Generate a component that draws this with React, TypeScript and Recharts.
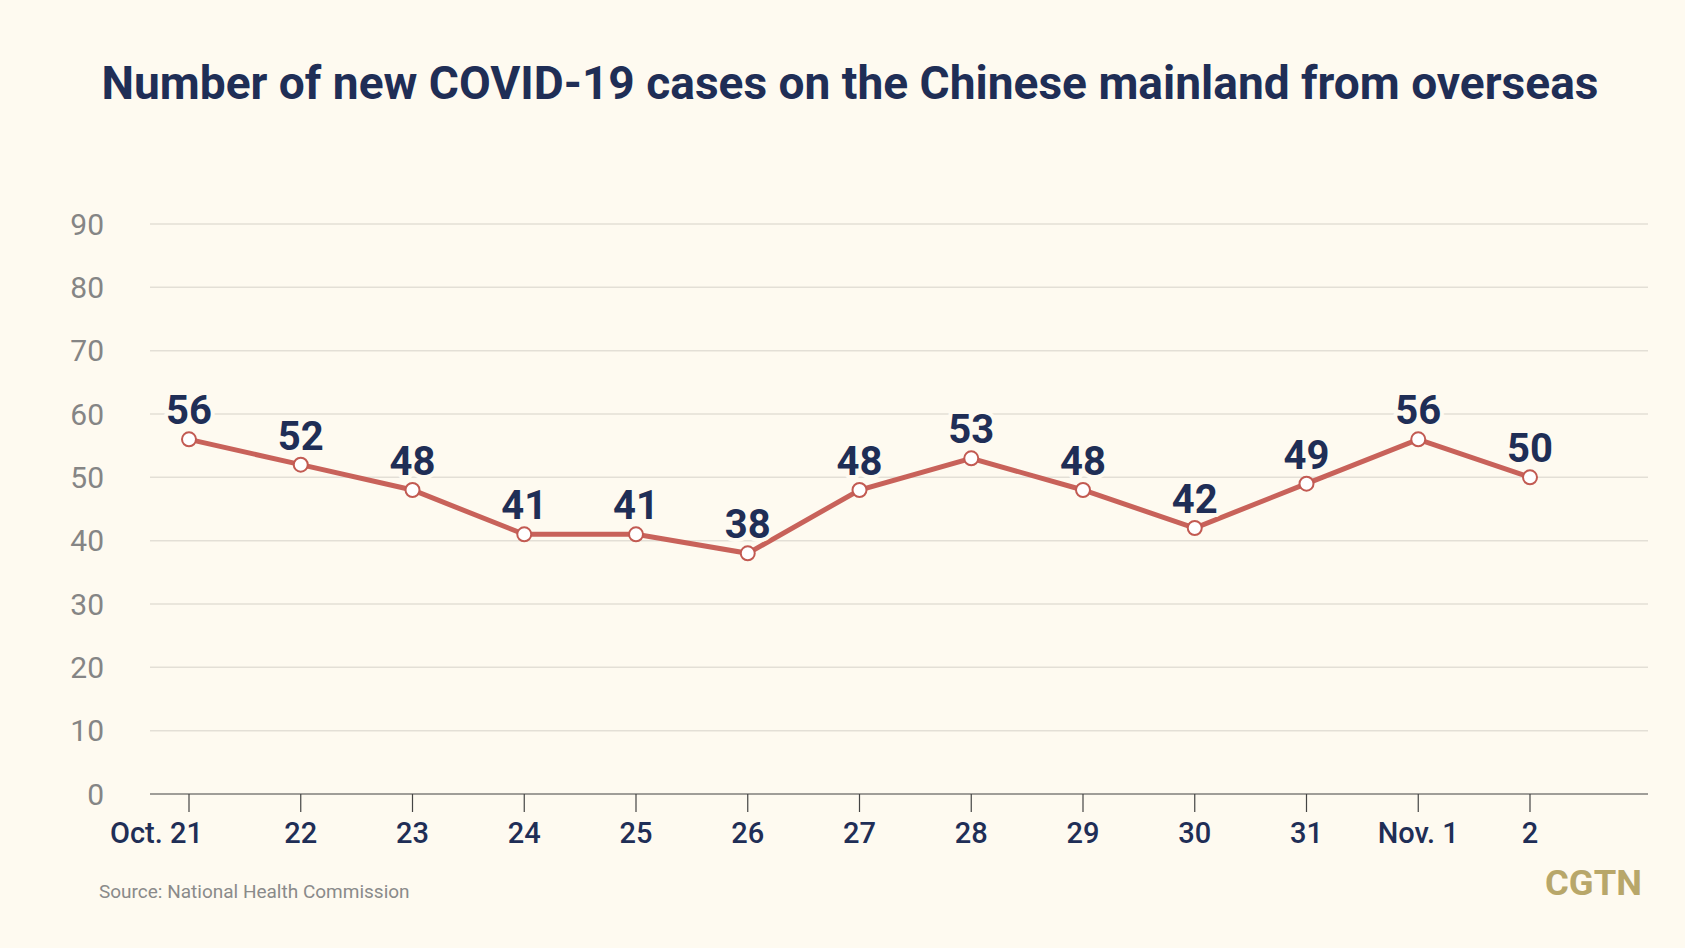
import React from 'react';
import { LineChart, Line, XAxis, YAxis, CartesianGrid } from 'recharts';

const categories = ['Oct. 21', '22', '23', '24', '25', '26', '27', '28', '29', '30', '31', 'Nov. 1', '2'];
const cases = [56, 52, 48, 41, 41, 38, 48, 53, 48, 42, 49, 56, 50];
const yTicks = [0, 10, 20, 30, 40, 50, 60, 70, 80, 90];

const title = 'Number of new COVID-19 cases on the Chinese mainland from overseas';
const source = 'Source: National Health Commission';
const logo = 'CGTN';

const data = categories.map((c, i) => ({ date: c, cases: cases[i] }));

const BG = '#fefaf0';
const NAVY = '#1f2e56';
const FONT = 'Roboto, "DejaVu Sans", sans-serif';

const XTick = (props: any) => {
  const { x, y, payload } = props;
  const first = payload.index === 0;
  return (
    <text
      x={first ? x + 14 : x}
      y={y}
      dy="0.71em"
      textAnchor={first ? 'end' : 'middle'}
      fill={NAVY}
      fontSize={29}
      fontWeight={500}
      fontFamily={FONT}
    >
      {payload.value}
    </text>
  );
};

const Dot = (props: any) => {
  const { cx, cy, value, index } = props;
  if (cx == null || cy == null) return null;
  return (
    <g key={`d-${index}`}>
      <circle cx={cx} cy={cy} r={7} fill="#ffffff" stroke="#c25a52" strokeWidth={2} />
      <text
        x={cx}
        y={cy - 15}
        textAnchor="middle"
        fill={NAVY}
        fontSize={40}
        fontWeight={700}
        fontFamily={FONT}
        stroke={BG}
        strokeWidth={8}
        paintOrder="stroke"
        strokeLinejoin="round"
      >
        {value}
      </text>
    </g>
  );
};

export default function App() {
  return (
    <div style={{ position: 'relative', width: 1685, height: 948, background: BG, overflow: 'hidden' }}>
      <style>{`body{margin:0;}`}</style>
      <LineChart
        width={1685}
        height={948}
        data={data}
        margin={{ top: 224, right: 37, bottom: 124, left: 0 }}
      >
        <CartesianGrid vertical={false} stroke="#e3dfd6" strokeWidth={1.5} />
        <XAxis
          dataKey="date"
          height={30}
          padding={{ left: 39, right: 118 }}
          axisLine={{ stroke: '#555555', strokeWidth: 1.2 }}
          tickLine={{ stroke: '#444444', strokeWidth: 1.2 }}
          tickSize={18}
          tickMargin={10}
          interval={0}
          tick={<XTick />}
        />
        <YAxis
          domain={[0, 90]}
          ticks={yTicks}
          width={150}
          axisLine={false}
          tickLine={false}
          tickSize={0}
          tickMargin={46}
          interval={0}
          tick={{ fill: '#858585', fontSize: 30, fontFamily: FONT }}
        />
        <Line
          type="linear"
          dataKey="cases"
          stroke="#c8625a"
          strokeWidth={5}
          dot={<Dot />}
          activeDot={false}
          isAnimationActive={false}
        />
      </LineChart>
      <svg
        width={1685}
        height={948}
        style={{ position: 'absolute', left: 0, top: 0, pointerEvents: 'none' }}
      >
        <text
          x={850}
          y={99}
          textAnchor="middle"
          fill={NAVY}
          fontSize={46}
          fontWeight={700}
          fontFamily={FONT}
          textLength={1497}
          lengthAdjust="spacingAndGlyphs"
        >
          {title}
        </text>
        <text x={99} y={898} fill="#8a8a8a" fontSize={19} fontFamily={FONT}>
          {source}
        </text>
        <text
          x={1545}
          y={895}
          fill="#b8a76a"
          fontSize={35}
          fontWeight={700}
          fontFamily={FONT}
          textLength={97}
          lengthAdjust="spacingAndGlyphs"
        >
          {logo}
        </text>
      </svg>
    </div>
  );
}
